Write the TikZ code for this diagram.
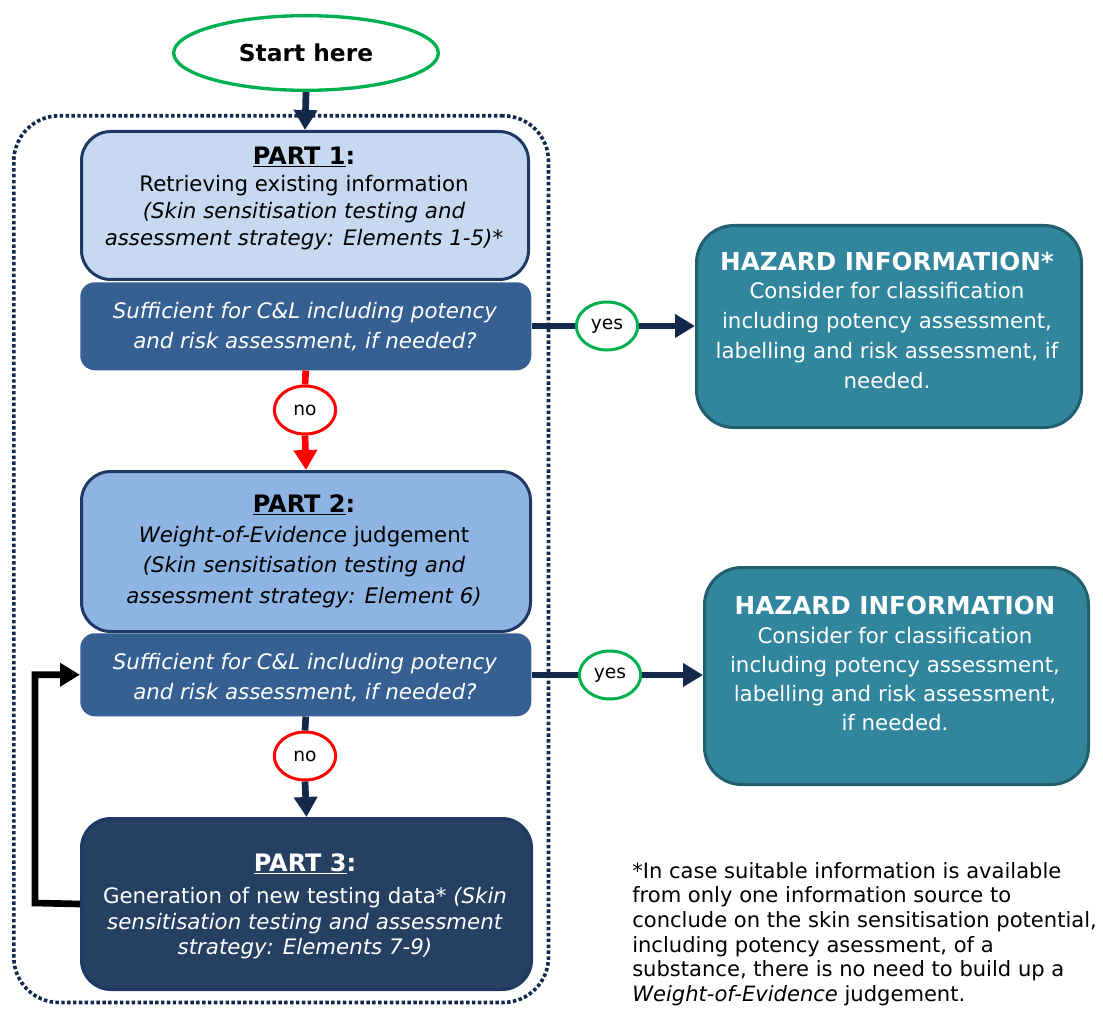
\documentclass[tikz,border=0pt]{standalone}
\usepackage{fontspec}
\setmainfont{DejaVu Sans}
\usetikzlibrary{arrows.meta,shapes.geometric}
\definecolor{navy}{HTML}{14284B}
\definecolor{partborder}{HTML}{1F3864}
\definecolor{pAfill}{HTML}{C6D9F1}
\definecolor{pBfill}{HTML}{8DB4E2}
\definecolor{pCfill}{HTML}{254061}
\definecolor{decfill}{HTML}{376092}
\definecolor{hazfill}{HTML}{31859C}
\definecolor{hazborder}{HTML}{215E6E}
\definecolor{okgreen}{HTML}{00B050}
\definecolor{nored}{HTML}{FF0000}
\begin{document}
\begin{tikzpicture}[x=0.75pt,y=-0.75pt,
  partbox/.style={draw=partborder, line width=2.25pt, rounded corners=22pt, anchor=north west, inner sep=0pt},
  decbox/.style={fill=decfill, rounded corners=11pt, anchor=north west, inner sep=0pt},
  hazbox/.style={fill=hazfill, draw=hazborder, line width=2.25pt, rounded corners=28pt, anchor=north west, inner sep=0pt},
  boxtext/.style={align=center, inner sep=0pt},
  flag/.style={ellipse, fill=white, line width=2.25pt, minimum width=46pt, minimum height=36pt, inner sep=0pt, font=\fontsize{14}{16}\selectfont},
  yesflag/.style={flag, draw=okgreen},
  noflag/.style={flag, draw=nored},
  flow/.style={line width=5pt, draw=navy},
  flowarrow/.style={flow, -{Triangle[length=15pt,width=17pt]}},
  redflow/.style={line width=5pt, draw=nored},
  redarrow/.style={redflow, -{Triangle[length=15pt,width=17pt]}},
  loopflow/.style={line width=5pt, draw=black, -{Triangle[length=15pt,width=17pt]}},
  frame/.style={draw=navy, line width=2.7pt, dash pattern=on 2.6pt off 1.8pt, rounded corners=34pt, anchor=north west, inner sep=0pt}
]
\useasboundingbox (0,0) rectangle (1103,1009);

% dotted frame
\node[frame, minimum width=401pt, minimum height=665pt] (frame) at (12,114) {};

% start
\node[ellipse, draw=okgreen, fill=white, line width=2.5pt, minimum width=198.5pt, minimum height=56pt,
      font=\fontsize{17.5}{20}\selectfont\bfseries] (start) at (306,53) {Start here};

% boxes
\node[partbox, fill=pAfill, minimum width=335.25pt, minimum height=111pt] (p1) at (80,130) {};
\node[decbox, minimum width=338.25pt, minimum height=66pt] (dec1) at (80,282) {};
\node[hazbox, minimum width=288.75pt, minimum height=151.5pt] (haz1) at (695,224) {};
\node[partbox, fill=pBfill, minimum width=336.75pt, minimum height=120pt] (p2) at (80,470) {};
\node[decbox, minimum width=338.25pt, minimum height=62.25pt] (dec2) at (80,633) {};
\node[hazbox, minimum width=288pt, minimum height=162.75pt] (haz2) at (703,566) {};
\node[partbox, fill=pCfill, minimum width=337.5pt, minimum height=128.25pt] (p3) at (80,817) {};

% texts
\node[boxtext, font=\fontsize{16}{20.25}\selectfont] (p1t) at (304,198)
  {{\fontsize{18}{21}\selectfont\bfseries\underline{PART 1}:}\\
   Retrieving existing information\\
   \textit{(Skin sensitisation testing and}\\
   \textit{assessment strategy: Elements 1-5)*}};
\node[boxtext, text=white, font=\fontsize{16}{22.5}\selectfont] (dec1t) at (305,327)
  {\textit{Sufficient for C\&L including potency}\\
   \textit{and risk assessment, if needed?}};
\node[boxtext, text=white, font=\fontsize{16}{22.5}\selectfont] (haz1t) at (887,320)
  {{\fontsize{18.5}{21}\selectfont\bfseries HAZARD INFORMATION*}\\[-1.5pt]
   Consider for classification\\
   including potency assessment,\\
   labelling and risk assessment, if\\
   needed.};
\node[boxtext, font=\fontsize{16}{22.75}\selectfont] (p2t) at (304,551)
  {{\fontsize{18}{21}\selectfont\bfseries\underline{PART 2}:}\\
   \textit{Weight-of-Evidence} judgement\\
   \textit{(Skin sensitisation testing and}\\
   \textit{assessment strategy: Element 6)}};
\node[boxtext, text=white, font=\fontsize{16}{22.5}\selectfont] (dec2t) at (305,678)
  {\textit{Sufficient for C\&L including potency}\\
   \textit{and risk assessment, if needed?}};
\node[boxtext, text=white, font=\fontsize{16}{21.75}\selectfont] (haz2t) at (895,663)
  {{\fontsize{18.5}{21}\selectfont\bfseries HAZARD INFORMATION}\\
   Consider for classification\\
   including potency assessment,\\
   labelling and risk assessment,\\
   if needed.};
\node[boxtext, text=white, font=\fontsize{16}{19}\selectfont] (p3t) at (305,906)
  {{\fontsize{18}{21}\selectfont\bfseries\underline{PART 3}:}\\[5.5pt]
   Generation of new testing data* \textit{(Skin}\\
   \textit{sensitisation testing and assessment}\\
   \textit{strategy: Elements 7-9)}};

% footnote
\node[align=left, anchor=west, inner sep=0pt, font=\fontsize{15.8}{18.45}\selectfont] (note) at (632,934)
  {*In case suitable information is available\\
   from only one information source to\\
   conclude on the skin sensitisation potential,\\
   including potency asessment, of a\\
   substance, there is no need to build up a\\
   \textit{Weight-of-Evidence} judgement.};

% flags
\node[yesflag] (yes1) at (607,326) {yes};
\node[noflag] (no1) at (305,410) {no};
\node[yesflag] (yes2) at (610,675) {yes};
\node[noflag] (no2) at (305,756) {no};

% connectors
\draw[flowarrow] (start.south) -- (p1.north);
\draw[flow] (dec1.east |- yes1) -- (yes1.west);
\draw[flowarrow] (yes1.east) -- (haz1.west |- yes1);
\draw[redflow] (dec1.south) -- (no1.north);
\draw[redarrow] (no1.south) -- (p2.north);
\draw[flow] (dec2.east |- yes2) -- (yes2.west);
\draw[flowarrow] (yes2.east) -- (haz2.west |- yes2);
\draw[flow] (dec2.south) -- (no2.north);
\draw[flowarrow] (no2.south) -- (p3.north);
\draw[loopflow] (p3.west) -- (35,903) |- (dec2.west);
\end{tikzpicture}
\end{document}
